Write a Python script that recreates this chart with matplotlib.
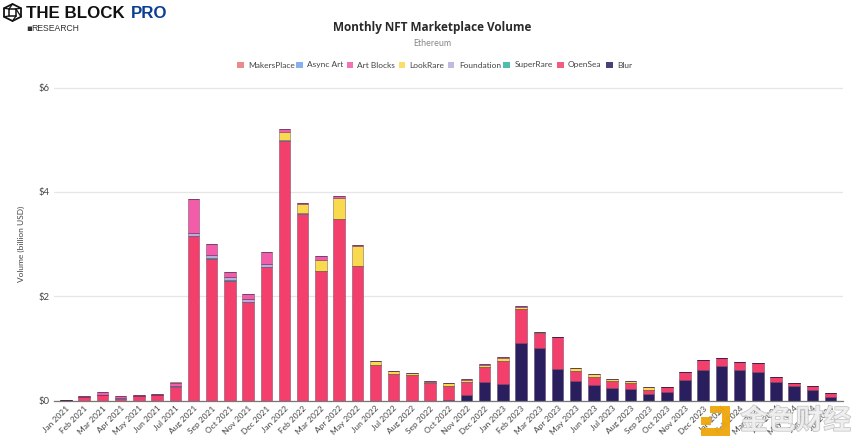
import matplotlib
matplotlib.use("Agg")
import matplotlib.pyplot as plt
import matplotlib.patheffects as pe
from matplotlib.patches import Polygon, Rectangle
from matplotlib.lines import Line2D

years_months = [(2021, m) for m in range(1, 13)] + [(2022, m) for m in range(1, 13)] + \
               [(2023, m) for m in range(1, 13)] + [(2024, m) for m in range(1, 8)]
names = ["Jan", "Feb", "Mar", "Apr", "May", "Jun", "Jul", "Aug", "Sep", "Oct", "Nov", "Dec"]
months = [f"{names[m-1]} {y}" for y, m in years_months]

blur = [0]*21 + [0.01, 0.10, 0.35, 0.32, 1.10, 1.00, 0.61, 0.37, 0.30, 0.24, 0.23, 0.134, 0.166,
                 0.40, 0.59, 0.66, 0.58, 0.555, 0.36, 0.27, 0.21, 0.07]
opensea = [0.005, 0.07, 0.10, 0.03, 0.09, 0.11, 0.26, 3.15, 2.72, 2.30, 1.88, 2.55,
           4.97, 3.58, 2.48, 3.48, 2.58, 0.68, 0.51, 0.49, 0.33,
           0.27, 0.25, 0.29, 0.44, 0.65, 0.29, 0.61, 0.19, 0.16, 0.13, 0.115, 0.076, 0.09,
           0.15, 0.18, 0.16, 0.16, 0.155, 0.10, 0.07, 0.065, 0.07]
superrare = [0, 0, 0.005, 0.005, 0, 0, 0.005, 0.01, 0.01, 0.01, 0.01, 0.01] + [0]*31
foundation = [0, 0, 0.01, 0.005, 0, 0, 0.02, 0.05, 0.05, 0.05, 0.05, 0.05, 0.03, 0.01, 0.01, 0.005, 0.005] + [0]*26
looksrare = [0]*12 + [0.15, 0.17, 0.20, 0.39, 0.37, 0.07, 0.05, 0.03, 0.02,
                      0.05, 0.05, 0.04, 0.05, 0.05, 0.02, 0, 0.07, 0.05, 0.04, 0.025, 0.045, 0.005,
                      0, 0, 0, 0, 0, 0, 0, 0, 0]
artblocks = [0.005, 0.01, 0.04, 0.04, 0.02, 0.02, 0.06, 0.65, 0.22, 0.10, 0.11, 0.24,
             0.05, 0.03, 0.08, 0.045, 0.025, 0.01, 0.01, 0.01, 0.02,
             0, 0.01, 0.02, 0.02, 0.01, 0, 0, 0, 0, 0, 0, 0, 0, 0, 0, 0, 0, 0, 0, 0, 0, 0]
asyncart = [0, 0, 0.003, 0.003, 0, 0] + [0]*37
makersplace = [0, 0, 0.002, 0.002, 0, 0, 0.002] + [0]*36

series = [("Blur", blur, "#2a1f5e"), ("OpenSea", opensea, "#f23f6b"), ("SuperRare", superrare, "#2fb3a0"),
          ("Foundation", foundation, "#b6aedb"), ("LookRare", looksrare, "#f9d94e"),
          ("Art Blocks", artblocks, "#f25ca8"), ("Async Art", asyncart, "#73a2ea"),
          ("MakersPlace", makersplace, "#ea7474")]
legend_order = ["MakersPlace", "Async Art", "Art Blocks", "LookRare", "Foundation", "SuperRare", "OpenSea", "Blur"]
yticks = [0, 2, 4, 6]

W, H = 865, 448
plt.rcParams["font.family"] = ["Lato", "DejaVu Sans"]
fig = plt.figure(figsize=(W/100, H/100), dpi=100, facecolor="white")
ax = fig.add_axes([54/W, 1-400.5/H, (843-54)/W, (400.5-87.5)/H])

bottom = [0.0]*len(months)
for name, vals, col in series:
    ax.bar(range(len(months)), vals, bottom=bottom, width=0.63, color=col,
           edgecolor=(0.25, 0.1, 0.25, 0.4), linewidth=0.6, zorder=3, label=name)
    bottom = [b+v for b, v in zip(bottom, vals)]

ax.set_xlim(-0.66, 42.68)
ax.set_ylim(0, 6)
ax.set_yticks(yticks)
ax.set_yticklabels([f"${v}" for v in yticks], fontsize=6.8, color="#444444")
ax.set_xticks(range(len(months)))
ax.set_xticklabels(months, fontsize=6.0, color="#444444", rotation=45, ha="right",
                   rotation_mode="anchor")
ax.tick_params(axis="both", length=0, pad=3)
ax.grid(axis="y", color="#e6e6e6", linewidth=0.9, zorder=0)
for s in ["top", "right", "left"]:
    ax.spines[s].set_visible(False)
ax.spines["bottom"].set_color("#777777")
ax.spines["bottom"].set_linewidth(0.9)
ax.spines["bottom"].set_zorder(5)
ax.set_ylabel("Volume (billion USD)", fontsize=6.0, color="#444444", labelpad=10)

fig.text(432.5/W, 1-28/H, "Monthly NFT Marketplace Volume", ha="center", va="center",
         fontsize=8.5, fontweight="bold", family="Open Sans", color="#2a2a2a")
fig.text(432/W, 1-43/H, "Ethereum", ha="center", va="center", fontsize=6.4, color="#888888")

colmap = {n: c for n, _, c in series}
leg_x = [237, 296, 346.5, 398.5, 448, 503, 557, 606]
txt_x = [248, 307, 357, 409, 459, 515, 568, 617]
for name, x, tx in zip(legend_order, leg_x, txt_x):
    fig.patches.append(Rectangle((x/W, 1-68.5/H), 6.5/W, 6.5/H, transform=fig.transFigure,
                                 facecolor=colmap[name], edgecolor="none", alpha=0.85))
    fig.text(tx/W, 1-67.5/H, name, ha="left", va="baseline", fontsize=6.0, color="#444444")

# brand header
fig.text(26/W, 1-13/H, "THE BLOCK", ha="left", va="center", fontsize=12.2, fontweight="bold",
         family="Liberation Sans", color="#111111")
fig.text(130.5/W, 1-13/H, "PRO", ha="left", va="center", fontsize=12.2, fontweight="bold",
         family="Liberation Sans", color="#0b3f94")
fig.text(26/W, 1-28.5/H, "▪", ha="left", va="center", fontsize=6.2, family="DejaVu Sans", color="#333333")
fig.text(31/W, 1-28.5/H, "RESEARCH", ha="left", va="center", fontsize=6.2,
         family="Liberation Sans", color="#333333")
cx, cy, r = 12.5, 12.5, 8.5
hexa = [(cx, cy-r), (cx+r, cy-r/2), (cx+r, cy+r/2), (cx, cy+r), (cx-r, cy+r/2), (cx-r, cy-r/2)]
inner = [(cx-3.5, cy-3.5), (cx+3.5, cy-3.5), (cx+3.5, cy+3.5), (cx-3.5, cy+3.5)]
to_fig = lambda p: (p[0]/W, 1-p[1]/H)
fig.patches.append(Polygon([to_fig(p) for p in hexa], closed=True, transform=fig.transFigure,
                           fill=False, edgecolor="#111111", linewidth=1.3))
fig.patches.append(Polygon([to_fig(p) for p in inner], closed=True, transform=fig.transFigure,
                           fill=False, edgecolor="#111111", linewidth=1.1))
for a, b in zip(hexa, [inner[0], inner[1], inner[1], inner[2], inner[3], inner[0]]):
    fig.add_artist(Line2D([a[0]/W, b[0]/W], [1-a[1]/H, 1-b[1]/H], color="#111111", linewidth=0.9))

# watermark
gold = "#eea60a"
ox, oy = 701, 406
mark = [(9, 0), (29, 0), (29, 30), (0, 30), (0, 22), (21, 22), (21, 7), (9, 7)]
fig.patches.append(Polygon([to_fig((ox+x, oy+y)) for x, y in mark], closed=True,
                           transform=fig.transFigure, facecolor=gold, edgecolor="none", zorder=10, alpha=0.95))
fig.patches.append(Polygon([to_fig((ox+x, oy+y)) for x, y in [(0, 11), (10, 11), (10, 19), (0, 19)]],
                           closed=True, transform=fig.transFigure, facecolor=gold, edgecolor="none", zorder=10, alpha=0.95))
fig.text(740/W, 1-421/H, "金色财经", ha="left", va="center", fontsize=20, fontweight="bold",
         family="Noto Sans CJK SC", color="#efefef", alpha=0.85, zorder=10,
         path_effects=[pe.withStroke(linewidth=0.9, foreground="#b5b5b5")])

fig.savefig("out.png", dpi=100)
